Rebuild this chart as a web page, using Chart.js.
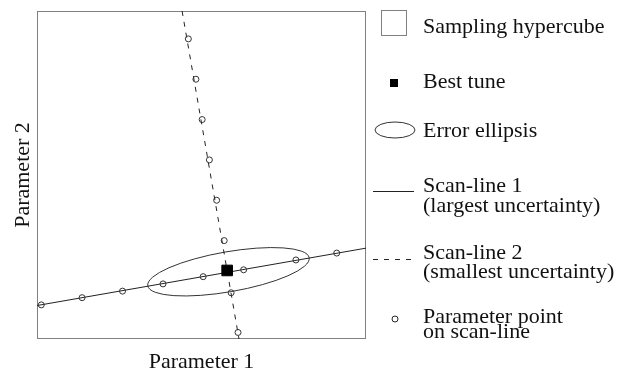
<!DOCTYPE html>
<html>
<head>
<meta charset="utf-8">
<script src="https://cdn.jsdelivr.net/npm/chart.js@4/dist/chart.umd.min.js"></script>
<style>
    body { margin: 0; background: #fff; }
</style>
</head>
<body>
<canvas id="scanChart" width="629" height="375"></canvas>
<script>
// Parameter space, both axes in arbitrary units 0..100
const axisRange = [0, 100];

// Scan-line 1 (largest uncertainty)
const scan1X = [1.3, 13.7, 26.0, 38.3, 50.5, 62.8, 78.7, 91.1];
const scan1Y = [10.4, 12.6, 14.6, 16.8, 19.0, 21.1, 24.1, 26.2];
const scan1EndsX = [0, 100];
const scan1EndsY = [10.2, 27.7];

// Scan-line 2 (smallest uncertainty)
const scan2X = [46.0, 48.3, 50.2, 52.4, 54.6, 56.9, 59.0, 61.1];
const scan2Y = [91.5, 79.2, 66.9, 54.6, 42.3, 30.0, 14.1, 2.0];
const scan2EndsX = [44.1, 61.4];
const scan2EndsY = [100, 0];

// Best tune and its error ellipsis (centre, semi-axes, tilt in degrees)
const bestTune = [57.8, 20.9];
const ellipseCentre = [58.2, 20.5];
const ellipseAxes = [24.9, 6.1];
const ellipseTilt = 9.9;

const legendLabels = [
    ["Sampling hypercube"],
    ["Best tune"],
    ["Error ellipsis"],
    ["Scan-line 1", "(largest uncertainty)"],
    ["Scan-line 2", "(smallest uncertainty)"],
    ["Parameter point", "on scan-line"]
];

const FONT = '"Liberation Serif", "Times New Roman", serif';

function toPoints(xs, ys) {
    return xs.map((x, i) => ({ x: x, y: ys[i] }));
}

// Frame round the plot area + the error ellipsis
const framePlugin = {
    id: "frame",
    beforeDatasetsDraw(chart) {
        const { ctx, chartArea: a, scales: { x, y } } = chart;
        ctx.save();
        ctx.strokeStyle = "#808080";
        ctx.lineWidth = 1;
        ctx.strokeRect(a.left + 0.5, a.top + 0.5, a.right - a.left - 1, a.bottom - a.top - 1);

        const t = ellipseTilt * Math.PI / 180;
        const cx = x.getPixelForValue(ellipseCentre[0]);
        const cy = y.getPixelForValue(ellipseCentre[1]);
        const mx = x.getPixelForValue(ellipseCentre[0] + ellipseAxes[0] * Math.cos(t)) - cx;
        const my = y.getPixelForValue(ellipseCentre[1] + ellipseAxes[0] * Math.sin(t)) - cy;
        const nx = x.getPixelForValue(ellipseCentre[0] - ellipseAxes[1] * Math.sin(t)) - cx;
        const ny = y.getPixelForValue(ellipseCentre[1] + ellipseAxes[1] * Math.cos(t)) - cy;
        ctx.beginPath();
        ctx.ellipse(cx, cy, Math.hypot(mx, my), Math.hypot(nx, ny), Math.atan2(my, mx), 0, Math.PI * 2);
        ctx.strokeStyle = "#333";
        ctx.stroke();
        ctx.restore();
    }
};

// Hand-drawn legend on the right (symbols the built-in legend can't do)
const sideLegend = {
    id: "sideLegend",
    afterDraw(chart) {
        const ctx = chart.ctx;
        const tx = 423;
        ctx.save();
        ctx.lineWidth = 1;

        // hypercube box
        ctx.strokeStyle = "#808080";
        ctx.strokeRect(381.5, 10.5, 25, 25);
        // best tune
        ctx.fillStyle = "#000";
        ctx.fillRect(390, 79, 8, 8);
        // ellipsis
        ctx.strokeStyle = "#333";
        ctx.beginPath();
        ctx.ellipse(395, 130, 20, 8, 0, 0, Math.PI * 2);
        ctx.stroke();
        // solid scan-line
        ctx.strokeStyle = "#222";
        ctx.beginPath();
        ctx.moveTo(373, 191.5);
        ctx.lineTo(414, 191.5);
        ctx.stroke();
        // dashed scan-line
        ctx.setLineDash([5, 6]);
        ctx.beginPath();
        ctx.moveTo(373, 259.5);
        ctx.lineTo(414, 259.5);
        ctx.stroke();
        ctx.setLineDash([]);
        // parameter point
        ctx.beginPath();
        ctx.arc(395, 319, 3, 0, Math.PI * 2);
        ctx.stroke();

        ctx.fillStyle = "#111";
        ctx.font = "22px " + FONT;
        ctx.textBaseline = "alphabetic";
        const baselines = [[33], [88], [137], [191.5, 211.5], [259, 278], [323, 338]];
        legendLabels.forEach((lines, i) => {
            lines.forEach((txt, j) => ctx.fillText(txt, tx, baselines[i][j]));
        });
        ctx.restore();
    }
};

const ctx = document.getElementById("scanChart").getContext("2d");

new Chart(ctx, {
    type: "scatter",
    data: {
        datasets: [
            {
                label: "Best tune",
                data: [{ x: bestTune[0], y: bestTune[1] }],
                pointStyle: "rect",
                pointRadius: 7.5,
                backgroundColor: "#000",
                borderColor: "#000",
                borderWidth: 1
            },
            {
                label: "Scan-line 1 points",
                data: toPoints(scan1X, scan1Y),
                pointRadius: 3,
                backgroundColor: "rgba(0,0,0,0)",
                borderColor: "#333",
                borderWidth: 1
            },
            {
                label: "Scan-line 2 points",
                data: toPoints(scan2X, scan2Y),
                pointRadius: 3,
                backgroundColor: "rgba(0,0,0,0)",
                borderColor: "#333",
                borderWidth: 1
            },
            {
                label: "Scan-line 1",
                data: toPoints(scan1EndsX, scan1EndsY),
                showLine: true,
                pointRadius: 0,
                borderColor: "#222",
                borderWidth: 1
            },
            {
                label: "Scan-line 2",
                data: toPoints(scan2EndsX, scan2EndsY),
                showLine: true,
                pointRadius: 0,
                borderColor: "#222",
                borderWidth: 1,
                borderDash: [5, 6]
            }
        ]
    },
    options: {
        responsive: false,
        animation: false,
        devicePixelRatio: 1,
        layout: { padding: { top: 11, right: 263, left: 0, bottom: 0 } },
        plugins: {
            legend: { display: false },
            tooltip: { enabled: false }
        },
        scales: {
            x: {
                min: axisRange[0],
                max: axisRange[1],
                ticks: { display: false },
                grid: { display: false },
                border: { display: false },
                title: {
                    display: true,
                    text: "Parameter 1",
                    color: "#111",
                    font: { family: FONT, size: 22 },
                    padding: { top: 0, bottom: 0 }
                },
                afterFit: (s) => { s.height = 36; }
            },
            y: {
                min: axisRange[0],
                max: axisRange[1],
                ticks: { display: false },
                grid: { display: false },
                border: { display: false },
                title: {
                    display: true,
                    text: "Parameter 2",
                    color: "#111",
                    font: { family: FONT, size: 22 },
                    padding: { top: 10, bottom: 0 }
                },
                afterFit: (s) => { s.width = 37; }
            }
        }
    },
    plugins: [framePlugin, sideLegend]
});
</script>
</body>
</html>
